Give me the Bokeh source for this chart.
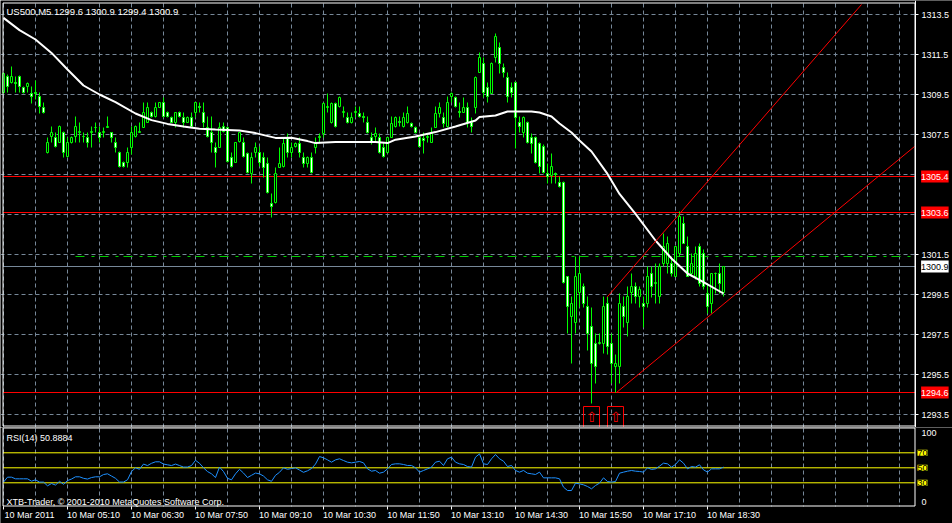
from bokeh.plotting import figure
from bokeh.models import Range1d, FixedTicker, Label, ColumnDataSource, LinearAxis
from bokeh.layouts import column
from bokeh.embed import file_html
from bokeh.resources import INLINE
from bokeh.core.properties import value

# ---------------- data ----------------
open_ = [1309.6, 1310.4, 1310.1, 1310.1, 1310.4, 1309.85, 1309.9, 1309.55, 1309.6, 1309.4,
         1308.85, 1306.6, 1307.4, 1307.35, 1307.1, 1307.6, 1306.4, 1307.1, 1307.4, 1307.6,
         1307.4, 1307.35, 1307.6, 1307.85, 1307.6, 1307.6, 1307.85, 1307.6, 1307.1, 1306.6,
         1306.1, 1306.1, 1306.85, 1307.4, 1307.6, 1307.85, 1308.1, 1308.6, 1308.4, 1308.85,
         1309.1, 1308.6, 1308.35, 1308.1, 1308.6, 1308.35, 1308.1, 1308.35, 1308.6, 1308.9,
         1308.6, 1307.85, 1307.6, 1306.85, 1306.85, 1307.9, 1307.85, 1306.35, 1306.1, 1307.15,
         1307.1, 1306.55, 1305.55, 1306.6, 1306.6, 1306.35, 1306.05, 1304.05, 1304.1, 1305.85,
         1305.9, 1307.3, 1306.6, 1306.9, 1307.05, 1306.35, 1306.05, 1306.35, 1306.85, 1307.35,
         1307.55, 1308.85, 1308.1, 1309.05, 1308.9, 1308.6, 1308.35, 1308.1, 1308.6, 1308.55,
         1308.4, 1308.1, 1307.35, 1307.4, 1307.35, 1306.85, 1306.6, 1307.35, 1307.9, 1308.15,
         1307.9, 1308.1, 1308.05, 1307.85, 1307.35, 1307.3, 1307.35, 1307.1, 1307.85, 1308.55,
         1308.35, 1307.9, 1309.4, 1309.35, 1308.65, 1308.6, 1308.85, 1308.1, 1308.85, 1310.6,
         1311.05, 1309.85, 1309.55, 1311.35, 1311.85, 1310.85, 1310.35, 1309.85, 1310.1, 1308.1,
         1307.6, 1308.1, 1307.35, 1307.35, 1307.05, 1306.9, 1305.55, 1305.45, 1305.55, 1305.1,
         1305.1, 1300.4, 1298.4, 1298.1, 1299.6, 1299.9, 1298.9, 1297.9, 1297.05, 1297.05,
         1297.05, 1299.05, 1297.05, 1295.9, 1295.9, 1298.9, 1298.1, 1299.6, 1299.9, 1299.4,
         1299.05, 1299.05, 1300.55, 1300.05, 1299.4, 1301.05, 1301.05, 1301.05, 1300.4, 1301.55,
         1303.05, 1301.9, 1300.55, 1300.4, 1301.9, 1301.55, 1299.55, 1299.05, 1300.55, 1300.55,
         1299.6]
high = [1310.6, 1310.5, 1310.9, 1310.4, 1310.45, 1309.9, 1310.1, 1309.9, 1310.2, 1309.6,
        1309.1, 1307.35, 1307.9, 1307.6, 1307.95, 1307.65, 1307.35, 1307.4, 1308.4, 1308.1,
        1307.6, 1307.6, 1307.9, 1308.1, 1307.9, 1307.85, 1308.4, 1307.6, 1307.35, 1306.65,
        1306.15, 1306.85, 1307.9, 1307.95, 1308.1, 1309.1, 1309.1, 1308.65, 1309.1, 1309.1,
        1309.35, 1308.65, 1308.4, 1308.6, 1308.65, 1308.6, 1308.4, 1308.6, 1309.1, 1309.1,
        1309.1, 1308.4, 1308.4, 1307.1, 1308.1, 1308.1, 1307.9, 1306.6, 1307.1, 1307.6,
        1307.35, 1306.6, 1306.6, 1307.1, 1306.9, 1306.6, 1306.35, 1304.55, 1305.85, 1306.85,
        1307.35, 1307.55, 1307.1, 1307.1, 1307.35, 1306.6, 1306.4, 1306.6, 1307.35, 1307.55,
        1309.1, 1309.55, 1309.1, 1309.1, 1309.4, 1308.9, 1308.6, 1308.6, 1308.9, 1308.9,
        1308.6, 1308.4, 1307.6, 1307.85, 1307.55, 1307.1, 1307.35, 1308.4, 1308.4, 1308.4,
        1308.6, 1308.9, 1308.1, 1307.9, 1307.4, 1307.6, 1307.55, 1307.85, 1308.9, 1309.1,
        1308.6, 1309.4, 1309.6, 1309.4, 1309.1, 1309.35, 1309.1, 1308.35, 1310.4, 1311.6,
        1311.35, 1310.1, 1311.1, 1312.55, 1312.1, 1311.05, 1310.6, 1310.1, 1310.15, 1308.4,
        1308.4, 1308.15, 1307.55, 1307.4, 1307.1, 1307.0, 1306.05, 1306.55, 1305.6, 1305.4,
        1305.15, 1300.4, 1299.4, 1301.4, 1301.4, 1300.05, 1299.4, 1298.85, 1297.55, 1297.55,
        1299.4, 1299.4, 1297.55, 1296.5, 1299.55, 1299.4, 1299.9, 1300.55, 1300.1, 1299.9,
        1299.4, 1300.9, 1300.9, 1301.05, 1301.05, 1302.55, 1302.4, 1301.4, 1301.9, 1303.65,
        1303.4, 1302.4, 1301.55, 1301.9, 1302.05, 1301.75, 1300.05, 1300.55, 1300.6, 1301.05,
        1300.9]
low = [1309.55, 1309.6, 1310.05, 1309.6, 1309.6, 1309.55, 1309.6, 1309.05, 1309.25, 1308.55,
       1308.55, 1306.55, 1307.1, 1306.85, 1307.1, 1306.35, 1306.35, 1307.05, 1307.1, 1307.1,
       1307.1, 1306.85, 1306.85, 1307.6, 1307.1, 1307.35, 1307.85, 1307.1, 1306.6, 1305.85,
       1305.85, 1305.85, 1306.5, 1307.35, 1307.6, 1307.85, 1308.1, 1308.35, 1308.35, 1308.85,
       1308.35, 1308.35, 1308.1, 1307.85, 1308.35, 1307.85, 1308.1, 1307.85, 1308.35, 1308.6,
       1307.85, 1307.35, 1306.6, 1305.85, 1306.85, 1307.6, 1306.1, 1305.85, 1306.1, 1307.1,
       1306.35, 1305.55, 1305.05, 1306.35, 1305.9, 1305.35, 1304.55, 1303.35, 1304.05, 1305.85,
       1305.85, 1306.35, 1306.35, 1306.85, 1306.35, 1305.85, 1305.85, 1305.55, 1306.55, 1307.1,
       1307.35, 1308.6, 1308.05, 1307.85, 1308.85, 1308.35, 1308.05, 1308.05, 1308.35, 1308.35,
       1308.1, 1307.55, 1307.0, 1307.1, 1306.55, 1306.35, 1306.55, 1307.35, 1307.85, 1307.9,
       1307.85, 1308.05, 1307.85, 1307.55, 1306.85, 1306.55, 1307.1, 1307.1, 1307.85, 1308.35,
       1307.85, 1307.85, 1309.1, 1308.85, 1308.35, 1308.6, 1307.85, 1307.6, 1308.55, 1310.6,
       1309.35, 1309.1, 1309.55, 1311.1, 1310.55, 1310.35, 1309.1, 1309.35, 1306.8, 1307.6,
       1307.35, 1307.05, 1306.55, 1306.05, 1305.55, 1305.55, 1305.05, 1305.05, 1305.05, 1304.85,
       1300.05, 1297.55, 1296.05, 1297.55, 1298.85, 1298.85, 1296.7, 1294.05, 1295.05, 1297.0,
       1296.55, 1296.5, 1295.05, 1294.6, 1295.05, 1297.85, 1297.4, 1299.05, 1299.05, 1298.85,
       1297.85, 1298.85, 1299.35, 1299.05, 1299.05, 1300.9, 1300.55, 1300.4, 1300.4, 1301.4,
       1302.05, 1300.4, 1300.4, 1300.25, 1299.9, 1299.75, 1298.55, 1298.55, 1299.55, 1299.55,
       1299.4]
close = [1310.55, 1309.9, 1310.4, 1310.05, 1309.9, 1309.6, 1310.05, 1309.4, 1309.55, 1308.9,
         1308.6, 1307.1, 1307.6, 1306.9, 1307.9, 1306.6, 1307.1, 1307.35, 1307.9, 1307.65,
         1307.4, 1307.1, 1307.65, 1307.85, 1307.35, 1307.65, 1307.9, 1307.35, 1306.85, 1305.9,
         1305.9, 1306.6, 1307.6, 1307.9, 1307.65, 1308.6, 1308.85, 1308.4, 1308.85, 1309.1,
         1308.4, 1308.4, 1308.1, 1308.6, 1308.4, 1308.1, 1308.35, 1307.9, 1309.1, 1308.85,
         1308.1, 1307.4, 1307.1, 1306.6, 1307.85, 1307.65, 1306.15, 1305.9, 1307.1, 1307.6,
         1306.4, 1305.6, 1306.35, 1306.85, 1306.1, 1305.85, 1304.6, 1303.9, 1305.55, 1306.05,
         1307.05, 1306.6, 1306.85, 1307.05, 1306.6, 1306.05, 1306.35, 1305.6, 1307.05, 1307.4,
         1309.05, 1308.9, 1309.05, 1307.9, 1309.35, 1308.65, 1308.1, 1308.35, 1308.65, 1308.4,
         1308.35, 1307.6, 1307.1, 1307.55, 1306.6, 1306.4, 1307.35, 1308.05, 1308.35, 1308.1,
         1308.35, 1308.55, 1307.9, 1307.6, 1306.9, 1307.2, 1307.4, 1307.55, 1308.55, 1308.85,
         1308.05, 1309.1, 1309.55, 1308.9, 1308.6, 1308.85, 1308.1, 1307.9, 1310.35, 1311.35,
         1309.6, 1309.4, 1311.05, 1312.4, 1311.05, 1310.6, 1309.4, 1309.6, 1308.35, 1307.9,
         1308.35, 1307.1, 1307.05, 1306.1, 1305.9, 1305.6, 1305.4, 1305.9, 1305.5, 1304.9,
         1300.1, 1298.9, 1299.05, 1300.4, 1300.55, 1299.05, 1297.55, 1296.05, 1295.9, 1297.1,
         1298.9, 1296.9, 1296.05, 1296.05, 1299.05, 1298.4, 1299.4, 1299.9, 1299.4, 1299.75,
         1298.9, 1300.4, 1299.9, 1300.1, 1300.9, 1301.9, 1302.05, 1300.55, 1301.9, 1303.4,
         1302.05, 1300.4, 1301.05, 1301.55, 1300.05, 1299.9, 1298.9, 1300.55, 1300.55, 1300.05,
         1300.9]

# moving average (white) read at sample bars
ma_idx = [0, 4, 8, 12, 16, 20, 24, 28, 33, 37, 41, 45, 49, 53, 59, 63, 68, 72, 76, 78,
          83, 93, 96, 98, 103, 108, 113, 118, 119, 123, 126, 132, 134, 137, 139, 142, 144,
          147, 151, 154, 158, 163, 167, 171, 175, 180]
ma_val = [1313.33, 1312.72, 1312.25, 1311.58, 1310.75, 1309.95, 1309.5, 1309.12, 1308.55,
          1308.22, 1308.03, 1307.9, 1307.79, 1307.75, 1307.7, 1307.57, 1307.33, 1307.34,
          1307.17, 1307.07, 1307.12, 1307.12, 1307.07, 1307.24, 1307.4, 1307.62, 1307.9,
          1308.2, 1308.37, 1308.45, 1308.65, 1308.65, 1308.6, 1308.4, 1308.05, 1307.6,
          1307.2, 1306.65, 1305.53, 1304.53, 1303.53, 1302.2, 1301.3, 1300.55, 1300.12,
          1299.55]

rsi_val = [30.9, 37.5, 37.5, 35.3, 35.3, 35.3, 35.3, 32.2, 34.0, 30.9,
           30.9, 26.0, 29.0, 27.0, 32.0, 28.0, 33.0, 35.0, 38.0, 38.0,
           36.0, 35.0, 37.0, 38.0, 38.0, 41.0, 42.0, 39.0, 36.0, 31.0,
           31.0, 34.0, 45.0, 50.0, 48.0, 55.0, 53.0, 56.0, 58.0, 58.0,
           55.0, 54.0, 53.0, 55.0, 53.0, 51.0, 51.0, 53.0, 60.0, 56.0,
           50.0, 45.0, 42.0, 37.0, 51.0, 45.0, 36.0, 34.0, 42.0, 48.0,
           43.0, 37.0, 40.0, 43.0, 42.0, 39.0, 34.0, 32.0, 40.0, 44.0,
           50.0, 48.0, 49.0, 50.0, 47.0, 44.0, 46.0, 49.0, 55.0, 65.0,
           63.3, 60.6, 57.5, 60.6, 62.0, 59.7, 57.5, 56.6, 57.5, 58.4,
           56.6, 48.6, 45.5, 46.4, 42.8, 44.2, 48.6, 54.4, 55.3, 55.3,
           54.4, 53.1, 53.1, 50.0, 44.2, 46.4, 48.6, 50.9, 57.5, 58.8,
           53.1, 62.0, 64.2, 57.5, 55.3, 54.4, 51.7, 50.9, 64.2, 68.6,
           55.3, 54.4, 62.0, 67.7, 62.0, 58.8, 51.7, 53.1, 46.4, 44.2,
           46.4, 42.8, 42.0, 41.1, 44.2, 36.6, 36.6, 36.6, 36.6, 35.3,
           24.2, 19.7, 19.7, 29.5, 28.6, 27.3, 25.1, 22.0, 26.4, 29.5,
           36.6, 31.7, 30.9, 31.7, 42.8, 44.2, 45.5, 46.4, 45.5, 45.1,
           44.2, 50.0, 47.8, 48.6, 52.2, 56.2, 55.3, 50.9, 54.4, 60.6,
           56.2, 48.6, 51.7, 50.9, 54.0, 47.3, 44.2, 48.6, 48.6, 48.6,
           50.9]

time_tick_idx = [0, 16, 32, 48, 64, 80, 96, 112, 128, 144, 160, 176]
time_labels = ["10 Mar 2011", "10 Mar 05:10", "10 Mar 06:30", "10 Mar 07:50",
               "10 Mar 09:10", "10 Mar 10:30", "10 Mar 11:50", "10 Mar 13:10",
               "10 Mar 14:30", "10 Mar 15:50", "10 Mar 17:10", "10 Mar 18:30"]
price_grid = [1293.5, 1295.5, 1297.5, 1299.5, 1301.5, 1303.5, 1305.5, 1307.5, 1309.5, 1311.5, 1313.5]
price_tick_labels = [1293.5, 1295.5, 1297.5, 1299.5, 1301.5, 1307.5, 1309.5, 1311.5, 1313.5]
red_levels = [1305.4, 1303.6, 1294.6]
bid_price = 1300.9
green_level = 1301.4
green_start = 18
rsi_levels = [70, 50, 30]
up_channel_x = [150.9, 214.5]
up_channel_y = [1299.37, 1314.0]
low_channel_x = [153.25, 227.75]
low_channel_y = [1294.6, 1306.9]
arrow_idx = [147, 153]
arrow_price = [1293.9, 1293.9]
header = "US500,M5  1299.6 1300.9 1299.4 1300.9"
rsi_title = "RSI(14) 50.8884"
copyright_text = "XTB-Trader, \u00a9 2001-2010 MetaQuotes Software Corp."

# ---------------- style / layout constants ----------------
FONT = "Liberation Sans"
FS = "9px"
GRID = "#778899"
LIME = "#00FF00"
X0, X1 = -0.75, 237.25          # full canvas width (4 px per bar)
BL, BR = -0.125, 227.875        # chart border (left / right)
AXIS_X = 228.0                  # where the price scale sits
LABEL_SHIFT = 6.5               # time labels start at their tick (left aligned)

idx = list(range(len(close)))
xr = Range1d(X0, X1)

# ---------------- price panel ----------------
main = figure(width=952, height=427, x_range=xr, y_range=Range1d(1292.85, 1314.2),
              output_backend="svg", toolbar_location=None,
              x_axis_location=None, y_axis_location="right",
              background_fill_color="black", border_fill_color="black",
              min_border_left=0, min_border_right=0, min_border_top=0, min_border_bottom=0,
              outline_line_color=None)

ax = main.yaxis[0]
ax.fixed_location = AXIS_X
ax.ticker = FixedTicker(ticks=price_tick_labels)
ax.major_label_text_color = "white"
ax.major_label_text_font = FONT
ax.major_label_text_font_size = FS
ax.axis_line_color = "white"
ax.major_tick_line_color = "white"
ax.major_tick_out = 3
ax.major_tick_in = 0
ax.minor_tick_line_color = None
ax.major_label_standoff = 3

main.xgrid.ticker = FixedTicker(ticks=list(range(0, 229, 8)))
main.ygrid.ticker = FixedTicker(ticks=price_grid)
for g in (main.xgrid, main.ygrid):
    g.grid_line_color = GRID
    g.grid_line_dash = "4 3"
    g.grid_line_width = 1

# horizontal price lines
n = len(red_levels)
main.segment(x0=[BL] * n, x1=[BR] * n, y0=red_levels, y1=red_levels,
             line_color="red", line_width=1)
main.segment(x0=[BL], x1=[BR], y0=[bid_price], y1=[bid_price], line_color=GRID, line_width=1)
main.segment(x0=[green_start], y0=[green_level], x1=[BR], y1=[green_level],
             line_color="#00CC00", line_width=1, line_dash="9 7 3 5")

# candles
src = ColumnDataSource(dict(
    x=idx, o=open_, h=high, l=low, c=close,
    top=[max(o, c) for o, c in zip(open_, close)],
    bottom=[min(o, c) for o, c in zip(open_, close)],
    fill=["black" if c >= o else "white" for o, c in zip(open_, close)],
))
main.segment(x0="x", y0="l", x1="x", y1="h", source=src, line_color=LIME, line_width=1)
main.vbar(x="x", top="top", bottom="bottom", width=0.5, source=src,
          fill_color="fill", line_color=LIME, line_width=1)

# moving average
main.line(ma_idx, ma_val, line_color="white", line_width=2)

# channel lines
main.line(up_channel_x, up_channel_y, line_color="red", line_width=1)
main.line(low_channel_x, low_channel_y, line_color="red", line_width=1)

# arrow markers
main.quad(left=[a - 2 for a in arrow_idx], right=[a + 2 for a in arrow_idx],
          top=arrow_price, bottom=[p - 1.2 for p in arrow_price],
          fill_color=None, line_color="red", line_width=1)
main.text(x=arrow_idx, y=[p - 0.5 for p in arrow_price], text=["\u21e7", "\u21e7"],
          text_color="red", text_align="center", text_baseline="middle",
          text_font=value("DejaVu Sans"), text_font_size="14px")

# black strip for the price scale, and chart border
main.quad(left=[AXIS_X], right=[X1], top=[1314.2], bottom=[1292.85],
          fill_color="black", line_color=None)
main.quad(left=[BL], right=[BR], top=[1314.075], bottom=[1292.925],
          fill_color=None, line_color="white", line_width=1)

main.add_layout(Label(x=0.75, y=1313.95, text=header, text_color="white",
                      text_font=FONT, text_font_size="9.5px", text_baseline="top"))

for lv in red_levels:
    main.add_layout(Label(x=229.4, y=lv, text=f"{lv:.1f}", text_color="white",
                          text_font=FONT, text_font_size=FS, text_baseline="middle",
                          background_fill_color="red", padding=(0, 3)))
main.add_layout(Label(x=229.4, y=bid_price, text=f"{bid_price:.1f}", text_color="black",
                      text_font=FONT, text_font_size=FS, text_baseline="middle",
                      background_fill_color="white", padding=(0, 3)))

# ---------------- RSI panel ----------------
R_TOP, R_BOT = 103.73, -24.27    # full canvas height of the lower panel (0.75 px per unit)
R_AXIS = -1.6                    # bottom edge of the RSI window
rsi = figure(width=952, height=96, x_range=xr, y_range=Range1d(R_BOT, R_TOP),
             output_backend="svg", toolbar_location=None,
             x_axis_location=None, y_axis_location=None,
             background_fill_color="black", border_fill_color="black",
             min_border_left=0, min_border_right=0, min_border_top=0, min_border_bottom=0,
             outline_line_color=None)

rsi.xgrid.ticker = FixedTicker(ticks=list(range(0, 229, 8)))
rsi.xgrid.grid_line_color = GRID
rsi.xgrid.grid_line_dash = "4 3"
rsi.ygrid.visible = False

m = len(rsi_levels)
rsi.segment(x0=[BL] * m, x1=[BR] * m, y0=rsi_levels, y1=rsi_levels,
            line_color="yellow", line_width=1)

rsi.line(idx, rsi_val, line_color="#1E90FF", line_width=1)

# black areas outside the indicator window, then its border
rsi.quad(left=[AXIS_X], right=[X1], top=[R_TOP], bottom=[R_BOT],
         fill_color="black", line_color=None)
rsi.quad(left=[X0], right=[X1], top=[R_AXIS], bottom=[R_BOT],
         fill_color="black", line_color=None)
rsi.quad(left=[BL], right=[BR], top=[103.07], bottom=[-0.94],
         fill_color=None, line_color="white", line_width=1)

# time axis: tick marks at the bar, labels starting at the tick
tick_axis = LinearAxis(fixed_location=R_AXIS, ticker=FixedTicker(ticks=time_tick_idx),
                       major_label_text_color=None, axis_line_color=None,
                       major_tick_line_color="white", major_tick_out=3, major_tick_in=0,
                       minor_tick_line_color=None)
rsi.add_layout(tick_axis, "below")
label_ticks = [t + LABEL_SHIFT for t in time_tick_idx]
label_axis = LinearAxis(fixed_location=R_AXIS, ticker=FixedTicker(ticks=label_ticks),
                        major_label_overrides={t: s for t, s in zip(label_ticks, time_labels)},
                        major_label_text_color="white", major_label_text_font=FONT,
                        major_label_text_font_size=FS, major_label_standoff=1,
                        axis_line_color=None, major_tick_line_color=None,
                        major_tick_out=3, major_tick_in=0, minor_tick_line_color=None)
rsi.add_layout(label_axis, "below")

rsi.add_layout(Label(x=0.75, y=97.0, text=rsi_title, text_color="white",
                     text_font=FONT, text_font_size=FS, text_baseline="top"))
rsi.add_layout(Label(x=0.75, y=4.1, text=copyright_text, text_color="white",
                     text_font=FONT, text_font_size=FS, text_baseline="alphabetic"))
rsi.add_layout(Label(x=229.5, y=100, text="100", text_color="white",
                     text_font=FONT, text_font_size=FS, text_baseline="top"))
rsi.add_layout(Label(x=229.5, y=0, text="0", text_color="white",
                     text_font=FONT, text_font_size=FS, text_baseline="bottom"))
for lv in rsi_levels:
    rsi.add_layout(Label(x=228.5, y=lv, text=str(lv), text_color="black",
                         text_font=FONT, text_font_size=FS, text_baseline="middle",
                         background_fill_color="yellow"))

layout = column(main, rsi, spacing=0)

open("out.html", "w").write(file_html(layout, INLINE))
